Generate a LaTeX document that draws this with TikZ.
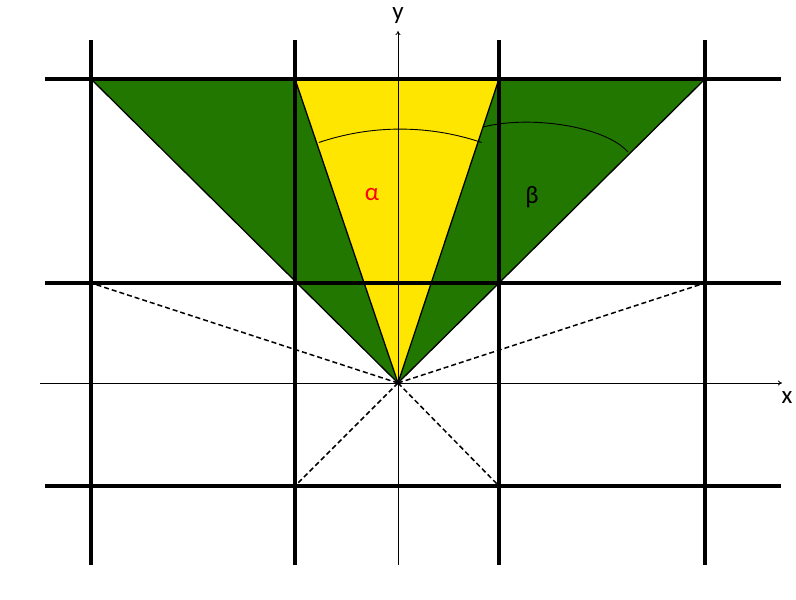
\documentclass[tikz,border=0pt]{standalone}
\usepackage{fontspec}
\setmainfont{Carlito}
\usetikzlibrary{arrows.meta}
\definecolor{leaf}{RGB}{33,119,0}
\definecolor{sun}{RGB}{255,230,0}
\begin{document}
\begin{tikzpicture}[x=1pt,y=-1pt,
  gridline/.style={line width=4.5pt},
  edge/.style={line width=1.3pt},
  ray/.style={line width=1.5pt,dash pattern=on 5pt off 3pt},
  axis/.style={line width=0.8pt,-{To[length=4pt,width=5pt]}},
  lbl/.style={font=\fontsize{25}{30}\selectfont,inner sep=0pt}]
\useasboundingbox (0,0) rectangle (796,600);
\coordinate (O) at (398,383);
\coordinate (GL) at (91,79);
\coordinate (GR) at (705,79);
\coordinate (YL) at (295,79);
\coordinate (YR) at (499,79);
\coordinate (D1) at (91,283);
\coordinate (D2) at (705,283);
\coordinate (D3) at (295,486);
\coordinate (D4) at (499,486);
% fills
\fill[leaf] (GL) -- (GR) -- (O) -- cycle;
\fill[sun] (YL) -- (YR) -- (O) -- cycle;
\draw[edge] (GL) -- (O) -- (GR);
\draw[edge] (YL) -- (O) -- (YR);
% dashed rays
\draw[ray] (O) -- (D1);
\draw[ray] (O) -- (D2);
\draw[ray] (O) -- (D3);
\draw[ray] (O) -- (D4);
% grid
\foreach \gx/\n in {91/a,295/b,499/c,705/d}{
  \coordinate (vt\n) at (\gx,40);
  \coordinate (vb\n) at (\gx,565);
  \draw[gridline] (vt\n) -- (vb\n);
}
\foreach \gy/\n in {79/a,283/b,486/c}{
  \coordinate (hl\n) at (45,\gy);
  \coordinate (hr\n) at (781,\gy);
  \draw[gridline] (hl\n) -- (hr\n);
}
% axes
\coordinate (xs) at (40,383);
\coordinate (xe) at (782,383);
\coordinate (ys) at (398,565);
\coordinate (ye) at (398,31);
\draw[axis] (xs) -- (xe);
\draw[axis] (ys) -- (ye);
\node[lbl] (xl) at (787,398) {x};
\node[lbl] (yl) at (398,16) {y};
% arcs
\coordinate (a1) at (318.8,142.5);
\coordinate (b1) at (483,127);
\coordinate (b2) at (628,152);
\draw[line width=0.9pt] (a1) arc[start angle=-108.7, end angle=-71.3, radius=254];
\draw[line width=0.9pt] (b1) .. controls (530,115) and (605,126) .. (b2);
% labels
\node[lbl,text=red] (al) at (372,195) {α};
\node[lbl] (be) at (532,197) {β};
\end{tikzpicture}
\end{document}
